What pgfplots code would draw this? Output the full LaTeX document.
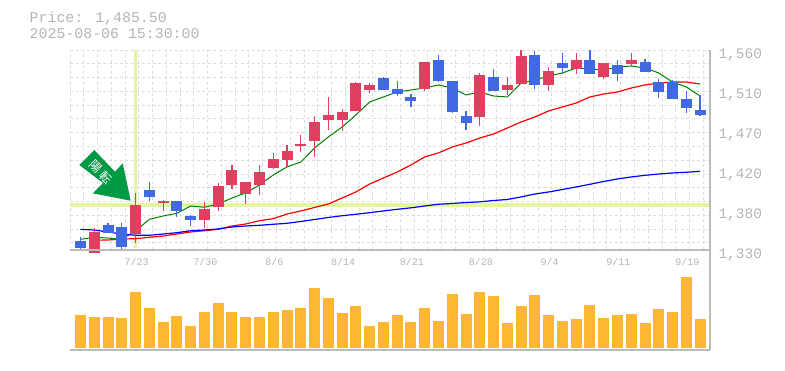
\documentclass[border=0pt]{standalone}
\usepackage{pgfplots}
\usepackage{pgfplotstable}
\usepackage{fontspec}
\pgfplotsset{compat=1.18}
\setmainfont{Liberation Mono}
\newfontfamily\cjk{Noto Sans CJK JP}
\definecolor{gridc}{HTML}{DDDDDD}
\definecolor{framec}{HTML}{BBBBBB}
\definecolor{textc}{HTML}{B5B5B5}
\definecolor{hl}{HTML}{E4F5A0}
\definecolor{upc}{HTML}{E0405F}
\definecolor{downc}{HTML}{4169E1}
\definecolor{volc}{HTML}{FFB733}
\definecolor{arrowc}{HTML}{009944}
\pgfplotstableread{
i o h l c
1 1326.6 1355 1326.6 1350.7
4 1348.4 1395.6 1338.1 1381.8
6 1384 1387.5 1374.9 1386.4
9 1364.5 1385.2 1355.3 1377.2
10 1379.5 1407 1374.9 1403.6
11 1404.8 1427.8 1400.2 1422
12 1394.4 1408.2 1382.9 1408.2
13 1404.8 1427.8 1393.3 1419.7
14 1424.3 1441.6 1423.2 1434.7
15 1433.5 1450.8 1425.5 1443.9
16 1449.6 1462.3 1442.7 1451.9
17 1455.4 1484.1 1437 1477.2
18 1479.5 1506 1468 1485.3
19 1479.5 1492.2 1466.9 1488.7
20 1489.9 1523.2 1489.9 1522
21 1514 1522 1510.5 1519.8
25 1515.2 1546.2 1512.9 1546.2
29 1483 1533.6 1472.6 1531.3
31 1514 1529 1508.3 1519.8
32 1520.9 1560 1520.9 1553.1
34 1519.8 1540.5 1512.9 1535.9
36 1538.2 1556.6 1532.4 1548.5
38 1529 1545 1526.7 1545
40 1543.9 1556.6 1541.6 1548.5
}\upcandles
\pgfplotstableread{
i o h l c
0 1340.4 1344.6 1329.2 1332.6
2 1358.8 1361.1 1349.6 1349.6
3 1356.5 1361.1 1329.2 1333.5
5 1399 1408.2 1386.4 1391
7 1386.4 1386.4 1368 1374.9
8 1369.1 1370.2 1357.6 1364.5
22 1527.8 1529 1514 1514
23 1515.2 1524.4 1507.1 1509.4
24 1506 1509.4 1494.5 1501.4
26 1548.5 1554.3 1523.2 1524.4
27 1524.4 1524.4 1487.6 1488.7
28 1484.1 1489.9 1468 1476.1
30 1529 1538.2 1512.9 1512.9
33 1554.3 1558.9 1515.2 1519.8
35 1545 1556.6 1532.4 1539.3
37 1548.5 1560 1532.4 1532.4
39 1542.8 1548.5 1524.4 1532.4
41 1546.2 1549.7 1534.7 1534.7
42 1523.2 1526.7 1504.8 1511.7
43 1523.2 1525.5 1503.6 1503.6
44 1503.6 1512.9 1487.6 1493.3
45 1491 1508.3 1484.1 1485.3
}\downcandles
\pgfplotstableread{
i v
0 327
1 307
2 307
3 297
4 557
5 397
6 257
7 317
8 217
9 357
10 447
11 357
12 307
13 307
14 357
15 377
16 397
17 597
18 497
19 347
20 417
21 217
22 257
23 327
24 257
25 397
26 267
27 537
28 337
29 557
30 517
31 247
32 417
33 527
34 327
35 267
36 287
37 427
38 297
39 327
40 337
41 247
42 387
43 357
44 707
45 287
}\volumes
\pgfplotstableread{
i g
0 1342.3
1 1344.6
2 1343.8
3 1342.3
4 1351.9
5 1365.3
6 1369.1
7 1372.2
8 1380.6
9 1379.1
10 1382.9
11 1389.8
12 1395.6
13 1404.8
14 1416.3
15 1425.5
16 1431.2
17 1447.3
18 1460
19 1471.4
20 1485.3
21 1500.2
22 1506
23 1511.7
24 1514
25 1516.3
26 1519.8
27 1516.3
28 1508.3
29 1511.7
30 1507.1
31 1506
32 1522
33 1525.5
34 1530.1
35 1533.6
36 1539.3
37 1538.2
38 1537
39 1540.5
40 1541.6
41 1539.3
42 1533.6
43 1523.2
44 1517.5
45 1507.1
}\greenma
\pgfplotstableread{
i r
1 1341.2
2 1341.5
3 1342.6
4 1343
5 1344.6
6 1346.1
7 1348.4
8 1350.7
9 1352.2
10 1353.8
11 1357.6
12 1359.9
13 1363.7
14 1366
15 1371.4
16 1374.9
17 1378.9
18 1382.9
19 1389.8
20 1396.7
21 1405.9
22 1412.8
23 1419.7
24 1427.8
25 1437
26 1441.6
27 1448.5
28 1453
29 1458.8
30 1463.4
31 1470.3
32 1477.2
33 1483
34 1489.9
35 1494.5
36 1499
37 1506
38 1509.4
39 1511.7
40 1516.3
41 1519.8
42 1522
43 1523.2
44 1523.2
45 1520.9
}\redma
\pgfplotstableread{
i b
0 1353.8
1 1353
2 1350.7
3 1348.4
4 1346.9
5 1346.9
6 1348.4
7 1349.9
8 1352.2
9 1353
10 1354.2
11 1356.5
12 1357.6
13 1358.4
14 1359.6
15 1360.7
16 1362.8
17 1365.1
18 1367.4
19 1369.4
20 1371.1
21 1372.9
22 1374.9
23 1376.8
24 1378.5
25 1380.6
26 1382.6
27 1383.5
28 1384.6
29 1385.4
30 1386.9
31 1388.1
32 1391
33 1394.4
34 1396.7
35 1399.6
36 1402.5
37 1405.6
38 1408.8
39 1411.7
40 1414
41 1415.9
42 1417.4
43 1418.6
44 1419.4
45 1420.5
}\blueme
\pgfplotsset{
  panel/.style={
    scale only axis, width=640pt,
    xmin=-0.762, xmax=45.72,
    axis line style={draw=none},
    minor x tick num=0,
    minor xtick={-0.762,0.238,1.238,2.238,3.238,4.238,5.238,6.238,7.238,8.238,9.238,10.238,11.238,12.238,13.238,14.238,15.238,16.238,17.238,18.238,19.238,20.238,21.238,22.238,23.238,24.238,25.238,26.238,27.238,28.238,29.238,30.238,31.238,32.238,33.238,34.238,35.238,36.238,37.238,38.238,39.238,40.238,41.238,42.238,43.238,44.238,45.238},
    xminorgrids=true,
    minor grid style={gridc, line width=1pt, dash pattern=on 3pt off 2.5pt},
    tick style={draw=none}, major tick length=0pt, minor tick length=0pt,
    axis on top=false,
  },
}
\begin{document}
\begin{tikzpicture}[x=1pt,y=1pt]
\path (0,0) rectangle (785,370);
% price panel
\begin{axis}[panel,
  at={(70pt,120pt)}, anchor=south west, height=200pt,
  ymin=1330, ymax=1560, clip=false,
  xtick={4,9,14,19,24,29,34,39,44},
  xticklabels={7/23,7/30,8/6,8/14,8/21,8/28,9/4,9/11,9/19},
  xticklabel style={font=\fontsize{10}{10}\selectfont, text=textc, yshift=-4.5pt, xshift=1pt},
  ytick={1560,1514,1468,1422,1376,1330},
  yticklabels={1{,}560,1{,}510,1{,}470,1{,}420,1{,}380,1{,}330},
  yticklabel pos=right,
  yticklabel style={font=\fontsize{14.5}{14.5}\selectfont, text=textc, anchor=west, yshift=-4.5pt, xshift=5pt},
  minor ytick={1560,1544.2,1528.3,1512.5,1496.6,1480.8,1464.9,1449.1,1433.2,1417.4,1401.5,1385.7,1369.8,1354,1338.1},
  yminorgrids=true,
  after end axis/.code={
    \draw[framec, line width=1.5pt] (rel axis cs:0,0) -- (rel axis cs:1,0);
    \draw[framec, line width=1.5pt] (rel axis cs:1,0) -- (rel axis cs:1,1);
  },
]
\addplot[hl, line width=3.5pt, forget plot] coordinates {(-0.762,1381.8) (45.72,1381.8)};
\addplot[hl, line width=3pt, forget plot] coordinates {(4,1560) (4,1332)};
\addplot[color=black!50!green, line width=1pt, forget plot] table[x=i,y=g] {\greenma};
\addplot[red, line width=1.2pt, forget plot] table[x=i,y=r] {\redma};
\addplot[blue, line width=1.2pt, forget plot] table[x=i,y=b] {\blueme};
% wicks
\addplot[draw=none, mark=none, forget plot, error bars/.cd, y dir=plus, y explicit, error mark=none,
  error bar style={upc, line width=1.2pt}]
  table[x=i, y=l, y error plus expr=\thisrow{h}-\thisrow{l}] {\upcandles};
\addplot[draw=none, mark=none, forget plot, error bars/.cd, y dir=plus, y explicit, error mark=none,
  error bar style={downc, line width=1.2pt}]
  table[x=i, y=l, y error plus expr=\thisrow{h}-\thisrow{l}] {\downcandles};
% bodies
\addplot[draw=none, mark=none, forget plot, error bars/.cd, y dir=plus, y explicit, error mark=none,
  error bar style={upc, line width=11pt}]
  table[x=i, y=o, y error plus expr=\thisrow{c}-\thisrow{o}] {\upcandles};
\addplot[draw=none, mark=none, forget plot, error bars/.cd, y dir=plus, y explicit, error mark=none,
  error bar style={downc, line width=11pt}]
  table[x=i, y=c, y error plus expr=\thisrow{o}-\thisrow{c}] {\downcandles};
\end{axis}
% volume panel
\begin{axis}[panel,
  at={(70pt,20pt)}, anchor=south west, height=100pt,
  ymin=-23, ymax=977,
  xtick=\empty, ytick=\empty,
  after end axis/.code={
    \draw[framec, line width=1.5pt] (rel axis cs:0,0) -- (rel axis cs:1,0);
    \draw[framec, line width=1.5pt] (rel axis cs:1,0) -- (rel axis cs:1,1);
  },
]
\addplot[draw=none, mark=none, forget plot, error bars/.cd, y dir=plus, y explicit, error mark=none,
  error bar style={volc, line width=11pt}]
  table[x=i, y expr=0, y error plus=v] {\volumes};
\end{axis}
% arrow
\fill[arrowc] (79.3,205) -- (94.3,220) -- (115,198.3) -- (122.7,206.7) -- (130.7,169.3) -- (92.7,176.7) -- (103,187) -- cycle;
\node[white, rotate=-45, font=\cjk\fontsize{12}{12}\selectfont, inner sep=0pt] at (100.7,198) {陽\hspace{2.5pt}転};
% header
\node[anchor=west, text=textc, font=\fontsize{14.9}{15}\selectfont, inner sep=0pt] at (29.5,352) {Price: 1,485.50};
\node[anchor=west, text=textc, font=\fontsize{14.9}{15}\selectfont, inner sep=0pt] at (29.5,336.8) {2025-08-06 15:30:00};
\end{tikzpicture}
\end{document}
